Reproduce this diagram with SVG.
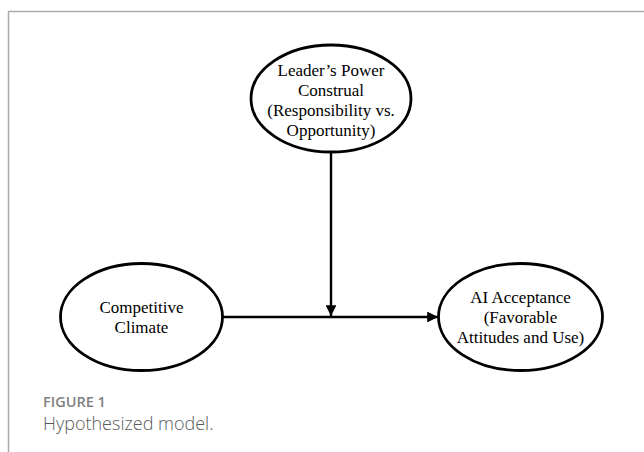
<svg xmlns="http://www.w3.org/2000/svg" width="644" height="452" viewBox="0 0 644 452">
<style>
.node ellipse{fill:#fff;stroke:#000;stroke-width:2.8}
.node text{font-family:"Liberation Serif","Times New Roman",serif;font-size:17px;fill:#000;text-anchor:middle}
.conn line{stroke:#000;stroke-width:2.4}
.cap1{font-family:"Open Sans","Noto Sans",sans-serif;font-size:14.5px;font-weight:600;fill:#808080}
.cap2{font-family:"Open Sans","Noto Sans",sans-serif;font-size:18px;font-weight:300;fill:#595959}
</style>
<defs>
<marker id="ah" viewBox="0 0 10 10" refX="10" refY="5" markerWidth="4.5" markerHeight="4.5" markerUnits="strokeWidth" orient="auto">
<path d="M0,0 L10,5 L0,10 Z" fill="#000"/>
</marker>
</defs>
<rect width="644" height="452" fill="#fff"/>
<path d="M8.5,452 V11.5 H644" fill="none" stroke="#aaa" stroke-width="1.5"/>
<g class="conn">
<line x1="331" y1="152" x2="331" y2="316" marker-end="url(#ah)"/>
<line x1="222" y1="317" x2="438" y2="317" marker-end="url(#ah)"/>
</g>
<g id="leader" class="node">
<ellipse cx="331" cy="98.5" rx="80" ry="53.5"/>
<text x="331" y="76">Leader’s Power</text>
<text x="331" y="96">Construal</text>
<text x="331" y="116">(Responsibility vs.</text>
<text x="331" y="136">Opportunity)</text>
</g>
<g id="climate" class="node">
<ellipse cx="141.5" cy="317" rx="81" ry="53.5"/>
<text x="141.5" y="313">Competitive</text>
<text x="141.5" y="333">Climate</text>
</g>
<g id="acceptance" class="node">
<ellipse cx="520.5" cy="317" rx="82" ry="53.5"/>
<text x="520.5" y="303">AI Acceptance</text>
<text x="520.5" y="323">(Favorable</text>
<text x="520.5" y="343">Attitudes and Use)</text>
</g>
<text class="cap1" x="43" y="407">FIGURE 1</text>
<text class="cap2" x="43" y="430">Hypothesized model.</text>
</svg>
